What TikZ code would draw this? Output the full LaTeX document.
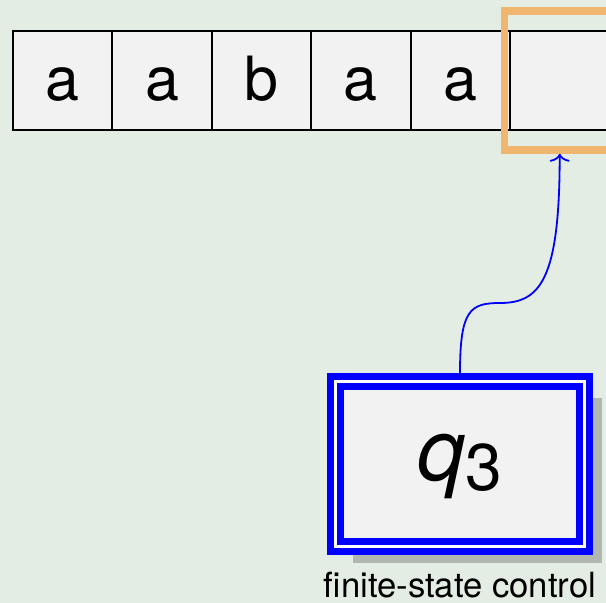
\documentclass[tikz,border=0pt]{standalone}
\usepackage{fontspec}
\setmainfont{TeX Gyre Heros}
\usetikzlibrary{arrows.meta,shadows}
\definecolor{bgcol}{RGB}{227,237,228}
\definecolor{headcol}{RGB}{240,181,110}
\tikzset{
  tapecell/.style={draw=black, line width=2pt, fill=gray!10, inner sep=0pt,
    minimum width=99.4pt, minimum height=99pt,
    font=\fontsize{61}{72}\selectfont, text height=39pt, text depth=0pt},
  headbox/.style={draw=headcol, line width=7.5pt, inner sep=0pt,
    minimum width=110pt, minimum height=139pt},
  controlbox/.style={draw=blue, double=white, double distance=3pt, line width=7pt,
    fill=gray!10, inner sep=0pt, outer sep=8.5pt,
    minimum width=249pt, minimum height=165pt,
    text height=44pt, text depth=12pt,
    drop shadow={shadow xshift=17.5pt, shadow yshift=-16.5pt}},
  readarrow/.style={draw=blue, line width=1.8pt, -{To[length=8pt,width=20pt]}},
  caption/.style={anchor=base, inner sep=0pt, font=\fontsize{34.7}{40}\selectfont}
}
\begin{document}
\begin{tikzpicture}[x=1pt,y=1pt]
  \fill[bgcol] (0,0) rectangle (606,-603);
  \useasboundingbox (0,0) rectangle (606,-603);
  \clip (0,0) rectangle (606,-603);

  % tape
  \node[tapecell] (c1) at (62.7,-80.5) {a};
  \node[tapecell] (c2) at (162.1,-80.5) {a};
  \node[tapecell] (c3) at (261.5,-80.5) {b};
  \node[tapecell] (c4) at (360.9,-80.5) {a};
  \node[tapecell] (c5) at (460.3,-80.5) {a};
  \node[tapecell] (c6) at (559.7,-80.5) {};

  % read head
  \node[headbox] (head) at (559.7,-80.5) {};

  % finite-state control
  \node[controlbox] (ctrl) at (460,-464)
    {{\fontsize{86}{90}\selectfont\itshape q}\raisebox{-10pt}{\fontsize{66}{70}\selectfont 3}};
  \node[caption] (fsc) at (460,-597) {finite-state control};

  % connection from control to head
  \coordinate (bend) at (500,-303);
  \draw[readarrow] (ctrl.north) .. controls (460,-310) and (470,-303) .. (bend)
    .. controls (540,-303) and (559.7,-280) .. (head.south);
\end{tikzpicture}
\end{document}
